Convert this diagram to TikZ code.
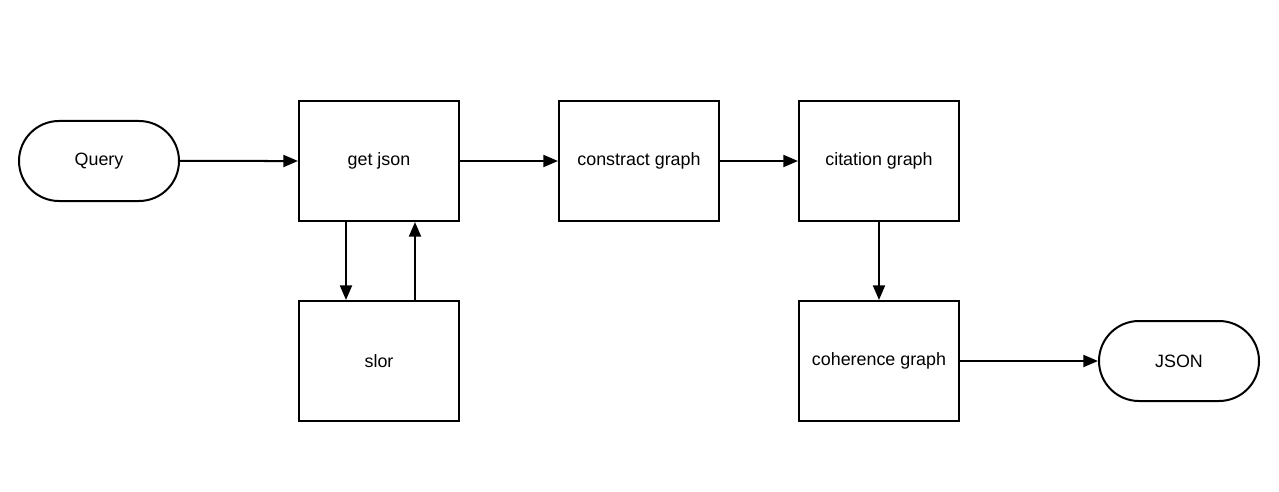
\documentclass[tikz,border=0pt]{standalone}
\usepackage{fontspec}
\setmainfont{Liberation Sans}
\usetikzlibrary{arrows.meta,shapes.misc}
\begin{document}
\begin{tikzpicture}[x=0.75pt,y=-0.75pt,font=\fontsize{13.4}{16}\selectfont,
  line width=1.5pt,
  box/.style={draw,minimum width=120pt,minimum height=90pt,inner sep=0pt},
  term/.style={draw,rounded rectangle,minimum width=120pt,minimum height=60pt,inner sep=0pt},
  >={Triangle[length=11pt,width=9pt]}]
\useasboundingbox (0,0) rectangle (1279,492);

\node[term] (query) at (99,161) {Query};
\node[box] (getjson) at (379,161) {get json};
\node[box] (constract) at (639,161) {constract graph};
\node[box] (citation) at (879,161) {citation graph};
\node[box] (slor) at (379,361) {slor};
\node[box] (coherence) at (879,361) {coherence graph};
\node[term] (json) at (1179,361) {JSON};

\draw[->] (query) -- (getjson);
\draw[->] (getjson) -- (constract);
\draw[->] (constract) -- (citation);
\draw[->] (citation) -- (coherence);
\draw[->] (coherence) -- (json);
\draw[->] ([xshift=-33*0.75pt]getjson.south) -- ([xshift=-33*0.75pt]slor.north);
\draw[->] ([xshift=36*0.75pt]slor.north) -- ([xshift=36*0.75pt]getjson.south);

\end{tikzpicture}
\end{document}
